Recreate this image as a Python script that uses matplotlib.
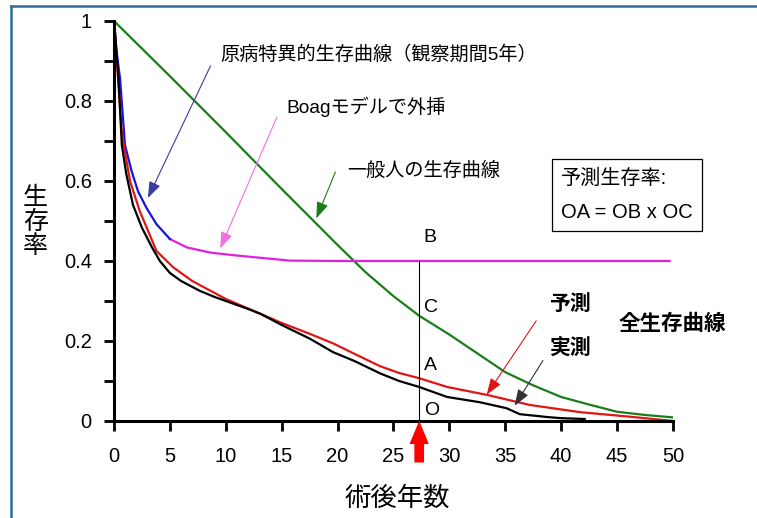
import matplotlib.pyplot as plt
from matplotlib.lines import Line2D

plt.rcParams['font.family'] = ['Liberation Sans', 'Noto Sans CJK JP']

# general population survival (green)
gen_x = [0, 5, 10, 15, 20, 22.5, 25, 27.3, 30, 32.5, 35, 37.5, 40, 42.5, 45, 47.5, 50]
gen_y = [1.0, 0.862, 0.722, 0.58, 0.44, 0.372, 0.312, 0.263, 0.216, 0.169, 0.122, 0.089, 0.06, 0.041, 0.023, 0.015, 0.009]

# disease-specific survival, 5-year observation (blue)
dss_x = [0, 0.2, 0.54, 0.98, 1.58, 2.15, 2.9, 3.8, 5.0]
dss_y = [1.0, 0.93, 0.856, 0.69, 0.624, 0.574, 0.533, 0.492, 0.455]

# Boag model extrapolation (magenta)
boag_x = [5.0, 6.5, 8.6, 10.5, 12.7, 15.7, 20, 30, 40, 49.7]
boag_y = [0.455, 0.434, 0.421, 0.415, 0.409, 0.401, 0.400, 0.400, 0.400, 0.400]

# predicted overall survival (red)
pred_x = [0, 0.3, 0.7, 1.43, 2.3, 3.8, 5.3, 7, 10, 12.5, 15, 17.5, 19.6, 21.5, 23.8, 25.5, 27.3, 29.8, 33.4, 37.2, 41.7, 46.4, 50]
pred_y = [1.0, 0.88, 0.72, 0.6, 0.525, 0.425, 0.384, 0.35, 0.305, 0.275, 0.245, 0.218, 0.194, 0.168, 0.137, 0.12, 0.107, 0.085, 0.065, 0.04, 0.022, 0.01, 0.0]

# observed overall survival (black)
obs_x = [0, 0.1, 0.4, 0.7, 1.1, 1.7, 2.5, 3.4, 4.1, 5, 6, 7.7, 9, 10.7, 12, 13.1, 15, 17.5, 19.6, 21.5, 23.8, 25.5, 27.3, 29.8, 32.7, 35.1, 36.3, 38.7, 40, 42.1]
obs_y = [1.0, 0.97, 0.856, 0.69, 0.617, 0.54, 0.483, 0.434, 0.40, 0.37, 0.35, 0.325, 0.31, 0.293, 0.28, 0.268, 0.24, 0.206, 0.172, 0.15, 0.119, 0.1, 0.085, 0.06, 0.047, 0.032, 0.017, 0.01, 0.007, 0.005]

t_mark = 27.3
b_val = 0.40

fig = plt.figure(figsize=(7.57, 5.18), dpi=100)
ax = fig.add_axes([0.1506, 0.1873, 0.7384, 0.7722])

lw = 1.6
ax.plot(gen_x, gen_y, color='#1a7d1a', lw=lw)
ax.plot(boag_x, boag_y, color='#e020e0', lw=lw)
ax.plot(dss_x, dss_y, color='#1515e0', lw=lw)
ax.plot(pred_x, pred_y, color='#e01515', lw=lw)
ax.plot(obs_x, obs_y, color='black', lw=lw)

ax.plot([t_mark, t_mark], [0, b_val], color='black', lw=0.8)

ax.set_xlim(0, 50)
ax.set_ylim(0, 1)
ax.set_xticks(range(0, 51, 5))
ax.set_yticks([0, 0.2, 0.4, 0.6, 0.8, 1])
ax.set_yticklabels(['0', '0.2', '0.4', '0.6', '0.8', '1'])
ax.set_yticks([0.1, 0.3, 0.5, 0.7, 0.9], minor=True)
ax.tick_params(axis='both', which='both', direction='out', length=7, width=2, labelsize=14.5)
ax.tick_params(axis='x', pad=12)
ax.tick_params(axis='y', pad=9)
for s in ['top', 'right']:
    ax.spines[s].set_visible(False)
for s in ['left', 'bottom']:
    ax.spines[s].set_linewidth(2.2)

# axis labels
fig.text(0.047, 0.572, '生\n存\n率', fontsize=18, ha='center', va='center', linespacing=1.0)
fig.text(0.525, 0.038, '術後年数', fontsize=19, ha='center', va='center')

# annotations with thin arrows
arw = '-|>,head_length=0.5,head_width=0.18'
ax.annotate('', xy=(2.92, 0.551), xytext=(8.74, 0.894),
            arrowprops=dict(arrowstyle=arw, color='#3a3aa0', lw=0.8, mutation_scale=20))
ax.text(9.5, 0.915, '原病特異的生存曲線（観察期間5年）', fontsize=13.8, va='center')

ax.annotate('', xy=(9.4, 0.425), xytext=(14.67, 0.766),
            arrowprops=dict(arrowstyle=arw, color='#f070e0', lw=0.8, mutation_scale=20))
ax.text(15.4, 0.785, 'Boagモデルで外挿', fontsize=13.8, va='center')

ax.annotate('', xy=(18.0, 0.5), xytext=(19.9, 0.629),
            arrowprops=dict(arrowstyle=arw, color='#1a7d1a', lw=0.8, mutation_scale=20))
ax.text(20.9, 0.626, '一般人の生存曲線', fontsize=13.8, va='center')

ax.annotate('', xy=(33.2, 0.06), xytext=(37.9, 0.256),
            arrowprops=dict(arrowstyle=arw, color='#e01515', lw=0.8, mutation_scale=20))
ax.annotate('', xy=(35.7, 0.032), xytext=(38.5, 0.157),
            arrowprops=dict(arrowstyle=arw, color='#333333', lw=0.8, mutation_scale=20))

ax.text(40.8, 0.293, '予測', fontsize=15, fontweight='bold', ha='center', va='center')
ax.text(40.8, 0.181, '実測', fontsize=15, fontweight='bold', ha='center', va='center')
ax.text(49.9, 0.240, '全生存曲線', fontsize=15.5, fontweight='bold', ha='center', va='center')

# point labels on the vertical line
for lab, yv in [('B', 0.458), ('C', 0.284), ('A', 0.139), ('O', 0.027)]:
    ax.text(t_mark + 0.4, yv, lab, fontsize=14, ha='left', va='center')

# formula box
ax.text(40.0, 0.565, '予測生存率:\nOA = OB x OC', fontsize=14.5, ha='left', va='center',
        linespacing=2.0,
        bbox=dict(boxstyle='square,pad=0.45', facecolor='white', edgecolor='black', lw=0.9))

# red marker arrow below the axis
ax.annotate('', xy=(t_mark, -0.004), xytext=(t_mark, -0.102), annotation_clip=False,
            arrowprops=dict(arrowstyle='simple,head_width=1.25,head_length=1.5,tail_width=0.6',
                            color='red', mutation_scale=10, shrinkA=0, shrinkB=0))

# slide frame (left and top edges)
fig.add_artist(Line2D([11 / 757, 11 / 757], [0, 1 - 6 / 518], color='#2b6e9b', lw=1.8))
fig.add_artist(Line2D([11 / 757, 1], [1 - 6 / 518, 1 - 6 / 518], color='#2b6e9b', lw=1.8))

fig.savefig('out.png', dpi=100)
